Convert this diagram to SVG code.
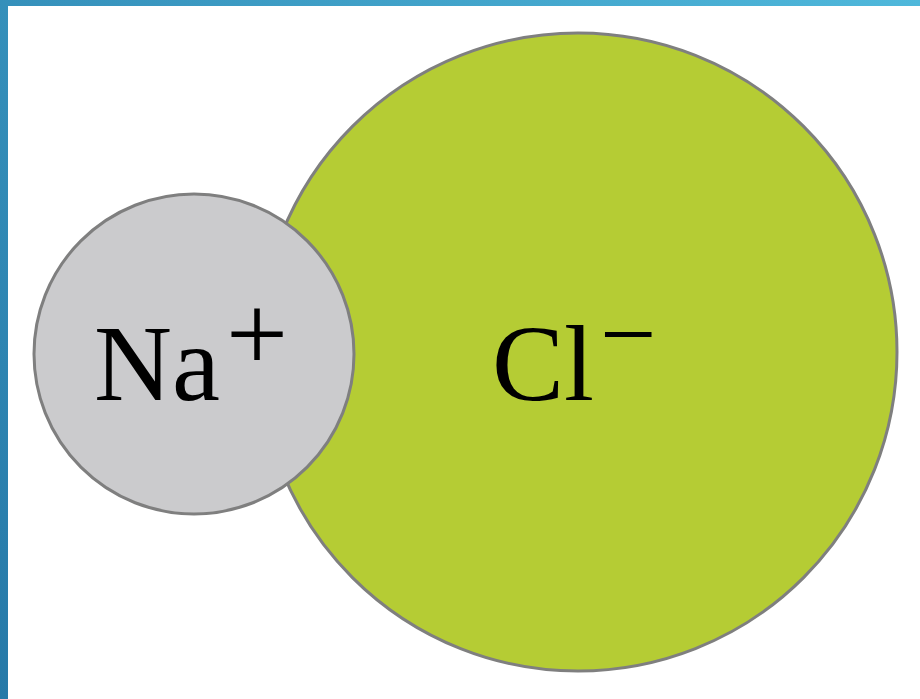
<svg xmlns="http://www.w3.org/2000/svg" width="920" height="699" viewBox="0 0 920 699">
<defs>
<linearGradient id="bg" x1="0" y1="699" x2="920" y2="0" gradientUnits="userSpaceOnUse">
<stop offset="0" stop-color="#2679a8"/>
<stop offset="1" stop-color="#4fb8db"/>
</linearGradient>
<style>
.ion{stroke:#7f7f7f;stroke-width:3}
.lbl{font-family:"Liberation Serif","DejaVu Serif",serif;fill:#000}
</style>
</defs>
<rect x="0" y="0" width="920" height="699" fill="#ffffff"/>
<rect x="0" y="0" width="920" height="6" fill="url(#bg)"/>
<rect x="0" y="0" width="8" height="699" fill="url(#bg)"/>
<g id="cl">
<circle class="ion" cx="578" cy="352" r="319" fill="#b5cc34"/>
<text class="lbl" x="492" y="400" font-size="108">Cl</text>
<text class="lbl" x="600" y="368" font-size="100">−</text>
</g>
<g id="na">
<circle class="ion" cx="194" cy="354" r="160" fill="#cbcbcd"/>
<text class="lbl" x="94" y="400" font-size="108">Na</text>
<text class="lbl" x="226" y="371" font-size="110">+</text>
</g>
</svg>
